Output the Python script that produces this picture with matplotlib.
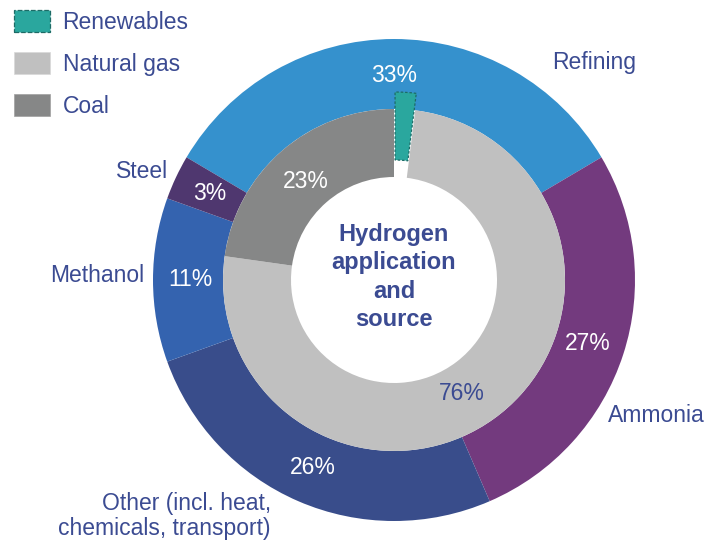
import matplotlib
matplotlib.use("Agg")
import matplotlib.pyplot as plt
from matplotlib.patches import Patch
import numpy as np

plt.rcParams['font.family'] = ['Liberation Sans', 'DejaVu Sans']

# outer ring: where hydrogen goes
uses = ['Refining', 'Ammonia', 'Other (incl. heat,\nchemicals, transport)', 'Methanol', 'Steel']
use_share = [33, 27, 26, 11, 3]
use_colors = ['#3591cd', '#733a7e', '#394d8b', '#3463af', '#4f376f']

# inner ring: where it comes from
sources = ['Renewables', 'Natural gas', 'Coal']
source_share = [2, 76, 23]
source_labels = ['', '76%', '23%']
source_colors = ['#2aa79e', '#c0c0c0', '#868787']

TXT = '#3b4b92'
W, H = 721, 543
cx, cy = 394, H - 280
R_out, R_in = 241, 171

fig = plt.figure(figsize=(W / 100, H / 100), dpi=100)
ax = fig.add_axes([0, 0, 1, 1])

wo, _ = ax.pie(use_share, colors=use_colors, startangle=149.4, counterclock=False,
               center=(cx, cy), radius=R_out,
               wedgeprops=dict(width=R_out - R_in, linewidth=0))
wi, _ = ax.pie(source_share, colors=source_colors, startangle=90, counterclock=False,
               center=(cx, cy), radius=R_in, explode=[17, 0, 0],
               wedgeprops=dict(width=68, linewidth=0))
wi[0].set_edgecolor('#1d6b66')
wi[0].set_linestyle((0, (2, 1.5)))
wi[0].set_linewidth(0.9)

# percent labels on the rings
for w, v in zip(wo, use_share):
    a = np.deg2rad((w.theta1 + w.theta2) / 2)
    ax.text(cx + 204 * np.cos(a), cy + 204 * np.sin(a), f'{v}%', color='white',
            fontsize=16.5, ha='center', va='center')
# gas label sits a bit past the middle of its wedge
for w, lab, col, shift in zip(wi, source_labels, ['white', TXT, 'white'], [0, -6.5, 1]):
    if not lab:
        continue
    a = np.deg2rad((w.theta1 + w.theta2) / 2 + shift)
    ax.text(cx + 132 * np.cos(a), cy + 132 * np.sin(a), lab, color=col,
            fontsize=16.5, ha='center', va='center')

# category names
kw = dict(color=TXT, fontsize=16.5, va='center')
ax.text(552, H - 62, uses[0], ha='left', **kw)
ax.text(608, H - 415, uses[1], ha='left', **kw)
ax.text(271, H - 516, uses[2], ha='right', linespacing=1.15, **kw)
ax.text(144, H - 275, uses[3], ha='right', **kw)
ax.text(168, H - 172, uses[4], ha='right', **kw)

ax.text(cx, H - 277, 'Hydrogen\napplication\nand\nsource', color=TXT, fontsize=17,
        fontweight='bold', ha='center', va='center', linespacing=1.31)

handles = [Patch(facecolor=c, edgecolor=e, linestyle=ls, linewidth=lw, label=s)
           for c, s, e, ls, lw in zip(source_colors, sources,
                                      ['#1d6b66', '#d8d8d8', '#a0a0a0'],
                                      ['--', '-', '-'], [0.9, 0.5, 0.5])]
ax.legend(handles=handles, loc='upper left', bbox_to_anchor=(14 / W, 1 - 10 / H),
          frameon=False, fontsize=16.5, labelcolor=TXT, borderpad=0, borderaxespad=0,
          handlelength=1.57, handleheight=1.13, handletextpad=0.55, labelspacing=0.78)

ax.set_xlim(0, W)
ax.set_ylim(0, H)
ax.set_aspect('equal')
ax.axis('off')

fig.savefig('out.png', dpi=100)
